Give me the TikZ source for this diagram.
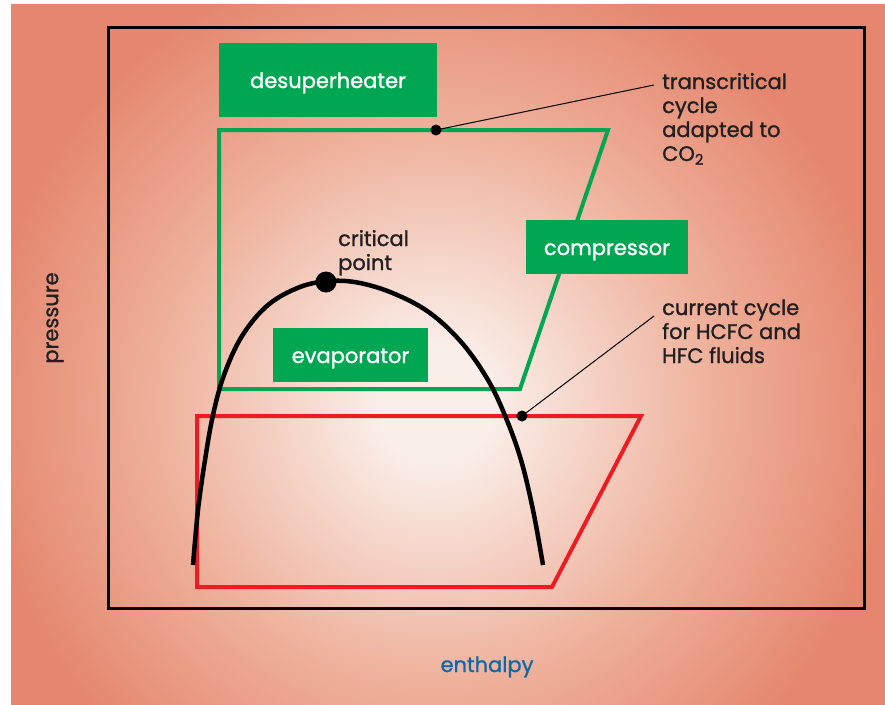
\documentclass[tikz,border=0pt]{standalone}
\usepackage{fontspec}
\setmainfont{Poppins}[UprightFeatures={FakeBold=1.2}]
\definecolor{bgin}{RGB}{250,238,232}
\definecolor{bgmid}{RGB}{238,174,152}
\definecolor{bgout}{RGB}{229,134,110}
\definecolor{cgreen}{RGB}{0,166,81}
\definecolor{cred}{RGB}{237,28,36}
\definecolor{ctext}{RGB}{35,31,32}
\definecolor{cblue}{RGB}{16,104,165}
\pgfdeclareradialshading{bgshade}{\pgfpoint{0bp}{0bp}}{color(0bp)=(bgin); color(3bp)=(bgin); color(15bp)=(bgmid); color(24bp)=(bgout); color(50bp)=(bgout)}
\tikzset{
  lbl/.style={font=\fontsize{21}{24}\selectfont, text=ctext, inner sep=0pt, align=left, anchor=base west},
  gbox/.style={fill=cgreen, text=white, font=\fontsize{21}{24}\selectfont, inner sep=0pt},
  cyc/.style={line width=4pt, miter limit=10},
  leaddot/.style={circle, fill=black, inner sep=0pt, minimum size=11pt},
  leader/.style={line width=1pt}
}
\begin{document}
\begin{tikzpicture}[x=1pt,y=-1pt]
\useasboundingbox (0,0) rectangle (885,704);
\begin{scope}
\clip (11,4) rectangle (890,710);
\fill[bgout] (11,4) rectangle (890,710);
\shade[shading=bgshade] (435,405) circle (480);
\end{scope}
% frame
\draw[line width=3pt] (108,27) rectangle (864,608);
% cycles
\draw[cyc, cgreen] (219,130) -- (608,130) -- (520,389) -- (219,389) -- cycle;
\draw[cyc, cred] (197,416) -- (641,416) -- (552,587) -- (197,587) -- cycle;
% boxes
\node[gbox, minimum width=218pt, minimum height=74pt, text height=45pt, text depth=29pt] (desup) at (328,80) {desuperheater};
\node[gbox, minimum width=162pt, minimum height=54pt, text height=35pt, text depth=19pt] (comp) at (607,247) {compressor};
\node[gbox, minimum width=155pt, minimum height=54pt, text height=35pt, text depth=19pt] (evap) at (350.5,355) {evaporator};
% dome
\draw[line width=4.5pt] plot[smooth, tension=0.6] coordinates {(193,565) (198,510) (205,460) (213,415) (224,375) (242,336) (268,305) (300,287) (330,281) (360,283) (395,294) (430,313) (462,343) (488,380) (506,418) (521,460) (533,510) (543,565)};
\node[circle, fill=black, inner sep=0pt, minimum size=21pt] (cp) at (326,282) {};
\node[lbl] (cptext) at (338,270) {critical\\point};
% labels
\node[lbl] (trans) at (662,161) {transcritical\\cycle\\adapted to\\CO\textsubscript{2}};
\node[lbl] (curr) at (662,363) {current cycle\\for HCFC and\\HFC fluids};
\node[leaddot] (d1) at (436,130) {};
\node[leaddot] (d2) at (522,416) {};
\coordinate (e1) at (654,85);
\coordinate (e2) at (654,316);
\draw[leader] (d1.center) -- (e1);
\draw[leader] (d2.center) -- (e2);
% axes labels
\node[font=\fontsize{21}{24}\selectfont, text=ctext, rotate=90, inner sep=0pt] (pres) at (55,318) {pressure};
\node[font=\fontsize{21}{24}\selectfont, text=cblue, inner sep=0pt, anchor=base] (enth) at (487,672) {enthalpy};
\end{tikzpicture}
\end{document}
